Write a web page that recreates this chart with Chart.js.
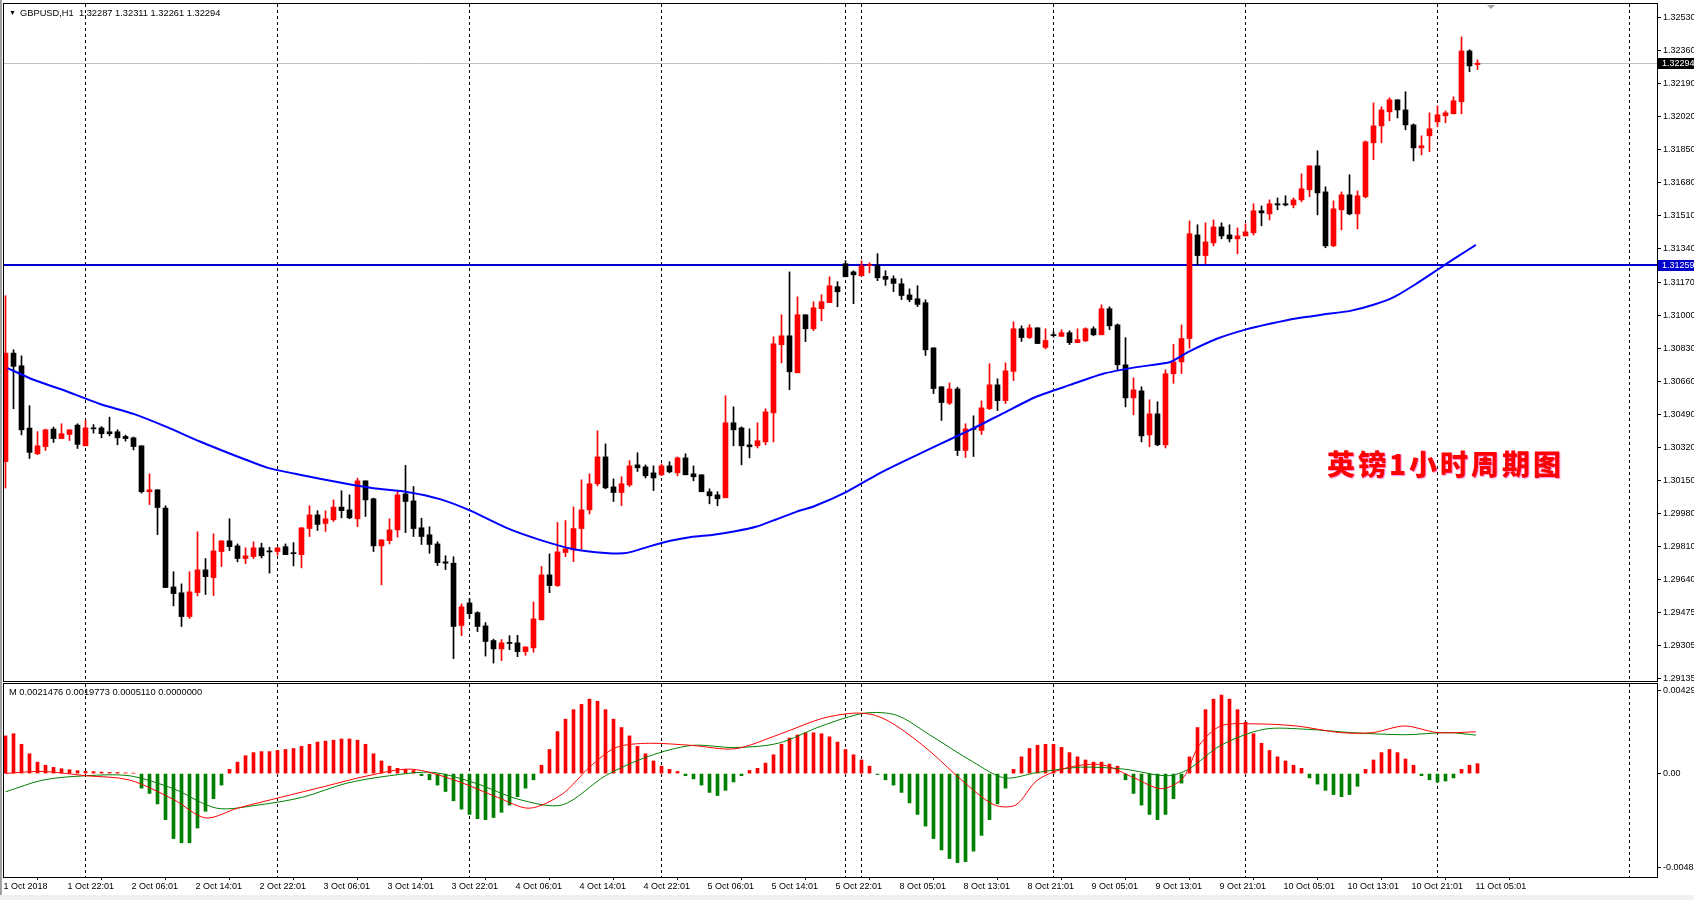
<!DOCTYPE html>
<html>
<head>
<meta charset="utf-8">
<script src="https://cdn.jsdelivr.net/npm/chart.js@4.4.0/dist/chart.umd.min.js"></script>
<style>
  body { margin: 0; background: #fff; }
  #wrap { position: relative; width: 1694px; height: 900px; overflow: hidden; background: #fff; font-family: 'Liberation Sans', Arial, sans-serif; }
  canvas { position: absolute; left: 0; }
  .lbl { position: absolute; font-size: 9.3px; line-height: 10px; color: #000; white-space: pre; }
  #title-cn { position: absolute; left: 1327px; top: 447px; font-family: 'Noto Sans CJK SC', sans-serif; font-weight: 900; font-size: 28px; line-height: 32px; letter-spacing: 3px; color: #ff0000; text-shadow: 1px 1px 1px rgba(255, 60, 200, 0.6); white-space: nowrap; }
</style>
</head>
<body>
<div id="wrap">
  <div style="position:absolute;left:0;top:0;width:2px;height:900px;background:#a0a0a0"></div>
  <canvas id="priceChart" width="1694" height="683" style="top:0"></canvas>
  <canvas id="macdChart" width="1694" height="217" style="top:683px"></canvas>
  <div class="lbl" style="left:9px;top:8px;font-size:7px">▼</div>
  <div class="lbl" style="left:20px;top:8px">GBPUSD,H1  1.32287 1.32311 1.32261 1.32294</div>
  <div class="lbl" style="left:9px;top:687px">M 0.0021476 0.0019773 0.0005110 0.0000000</div>
  <div id="title-cn">英镑1小时周期图</div>
  <div style="position:absolute;left:0;top:895px;width:1694px;height:5px;background:#f0f0f0"></div>
</div>
<script>
// etiquetas de tiempo (cada 8 velas)
const timeLabels = ['1 Oct 2018', '1 Oct 22:01', '2 Oct 06:01', '2 Oct 14:01', '2 Oct 22:01', '3 Oct 06:01',
  '3 Oct 14:01', '3 Oct 22:01', '4 Oct 06:01', '4 Oct 14:01', '4 Oct 22:01', '5 Oct 06:01', '5 Oct 14:01',
  '5 Oct 22:01', '8 Oct 05:01', '8 Oct 13:01', '8 Oct 21:01', '9 Oct 05:01', '9 Oct 13:01', '9 Oct 21:01',
  '10 Oct 05:01', '10 Oct 13:01', '10 Oct 21:01', '11 Oct 05:01'];

// velas H1 GBPUSD
const open = [1.30248, 1.30805, 1.30740, 1.30420, 1.30288, 1.30325, 1.30415, 1.30366, 1.30387, 1.30435,
  1.30329, 1.30420, 1.30421, 1.30401, 1.30401, 1.30377, 1.30370, 1.30329, 1.30093, 1.30103,
  1.30009, 1.29604, 1.29574, 1.29452, 1.29575, 1.29692, 1.29652, 1.29786, 1.29841, 1.29815,
  1.29750, 1.29760, 1.29805, 1.29787, 1.29786, 1.29811, 1.29780, 1.29770, 1.29904, 1.29974,
  1.29930, 1.29949, 1.30014, 1.30000, 1.29954, 1.30149, 1.30057, 1.29815, 1.29842, 1.29897,
  1.30082, 1.30046, 1.29908, 1.29872, 1.29825, 1.29733, 1.29726, 1.29406, 1.29522, 1.29472,
  1.29404, 1.29329, 1.29286, 1.29317, 1.29317, 1.29272, 1.29291, 1.29435, 1.29666, 1.29611,
  1.29781, 1.29794, 1.29904, 1.30000, 1.30134, 1.30272, 1.30118, 1.30089, 1.30128, 1.30231,
  1.30221, 1.30190, 1.30180, 1.30226, 1.30190, 1.30267, 1.30185, 1.30180, 1.30093, 1.30077,
  1.30062, 1.30447, 1.30421, 1.30334, 1.30329, 1.30349, 1.30498, 1.30848, 1.30894, 1.30704,
  1.31002, 1.30930, 1.31033, 1.31064, 1.31146, 1.31264, 1.31222, 1.31202, 1.31254, 1.31254,
  1.31199, 1.31187, 1.31161, 1.31104, 1.31084, 1.31064, 1.30832, 1.30632, 1.30548, 1.30621,
  1.30305, 1.30418, 1.30408, 1.30520, 1.30642, 1.30561, 1.30711, 1.30930, 1.30885, 1.30935,
  1.30834, 1.30900, 1.30891, 1.30910, 1.30859, 1.30868, 1.30930, 1.30899, 1.31033, 1.30950,
  1.30745, 1.30575, 1.30611, 1.30385, 1.30493, 1.30334, 1.30699, 1.30760, 1.30880, 1.31412,
  1.31306, 1.31371, 1.31453, 1.31412, 1.31392, 1.31407, 1.31423, 1.31536, 1.31520, 1.31572,
  1.31572, 1.31566, 1.31592, 1.31644, 1.31767, 1.31633, 1.31356, 1.31541, 1.31618, 1.31520,
  1.31608, 1.31885, 1.31972, 1.32044, 1.32106, 1.32054, 1.31977, 1.31859, 1.31921, 1.31993,
  1.32024, 1.32034, 1.32096, 1.32357, 1.32287];
const high = [1.31100, 1.30822, 1.30791, 1.30535, 1.30402, 1.30415, 1.30425, 1.30442, 1.30411, 1.30442,
  1.30459, 1.30438, 1.30428, 1.30476, 1.30411, 1.30384, 1.30374, 1.30329, 1.30185, 1.30103,
  1.30021, 1.29682, 1.29620, 1.29682, 1.29887, 1.29750, 1.29877, 1.29841, 1.29954, 1.29825,
  1.29805, 1.29836, 1.29829, 1.29808, 1.29805, 1.29825, 1.29832, 1.29908, 1.30021, 1.29996,
  1.29995, 1.30051, 1.30098, 1.30077, 1.30163, 1.30149, 1.30060, 1.29846, 1.29954, 1.30094,
  1.30228, 1.30120, 1.29957, 1.29913, 1.29836, 1.29764, 1.29759, 1.29517, 1.29544, 1.29477,
  1.29421, 1.29336, 1.29334, 1.29354, 1.29356, 1.29296, 1.29527, 1.29709, 1.29774, 1.29935,
  1.29945, 1.30015, 1.30154, 1.30185, 1.30406, 1.30339, 1.30159, 1.30170, 1.30253, 1.30293,
  1.30231, 1.30226, 1.30236, 1.30247, 1.30272, 1.30288, 1.30226, 1.30180, 1.30108, 1.30093,
  1.30586, 1.30529, 1.30426, 1.30416, 1.30447, 1.30519, 1.30889, 1.31002, 1.31222, 1.31094,
  1.31002, 1.31069, 1.31105, 1.31197, 1.31172, 1.31280, 1.31228, 1.31279, 1.31269, 1.31316,
  1.31228, 1.31202, 1.31187, 1.31135, 1.31151, 1.31079, 1.30832, 1.30632, 1.30652, 1.30630,
  1.30442, 1.30483, 1.30560, 1.30751, 1.30673, 1.30755, 1.30966, 1.30945, 1.30951, 1.30935,
  1.30930, 1.30916, 1.30925, 1.30920, 1.30930, 1.30935, 1.30940, 1.31053, 1.31043, 1.30955,
  1.30884, 1.30678, 1.30632, 1.30565, 1.30555, 1.30719, 1.30850, 1.30950, 1.31484, 1.31464,
  1.31474, 1.31489, 1.31474, 1.31464, 1.31448, 1.31469, 1.31572, 1.31561, 1.31592, 1.31602,
  1.31613, 1.31602, 1.31726, 1.31767, 1.31844, 1.31659, 1.31587, 1.31633, 1.31721, 1.31638,
  1.31895, 1.32090, 1.32070, 1.32116, 1.32106, 1.32147, 1.31982, 1.31921, 1.32039, 1.32075,
  1.32049, 1.32121, 1.32429, 1.32363, 1.32311];
const low = [1.30112, 1.30519, 1.30385, 1.30264, 1.30283, 1.30305, 1.30346, 1.30366, 1.30356, 1.30315,
  1.30329, 1.30394, 1.30370, 1.30380, 1.30334, 1.30353, 1.30308, 1.30086, 1.30027, 1.29873,
  1.29601, 1.29507, 1.29401, 1.29442, 1.29558, 1.29565, 1.29560, 1.29709, 1.29791, 1.29733,
  1.29724, 1.29750, 1.29753, 1.29675, 1.29767, 1.29770, 1.29712, 1.29702, 1.29863, 1.29894,
  1.29889, 1.29940, 1.29959, 1.29954, 1.29914, 1.29966, 1.29786, 1.29615, 1.29825, 1.29860,
  1.29883, 1.29863, 1.29822, 1.29777, 1.29714, 1.29693, 1.29236, 1.29354, 1.29444, 1.29375,
  1.29249, 1.29213, 1.29226, 1.29282, 1.29246, 1.29253, 1.29269, 1.29435, 1.29575, 1.29606,
  1.29760, 1.29734, 1.29798, 1.29979, 1.30123, 1.30108, 1.30043, 1.30022, 1.30120, 1.30197,
  1.30164, 1.30099, 1.30175, 1.30190, 1.30175, 1.30180, 1.30149, 1.30093, 1.30031, 1.30021,
  1.30062, 1.30329, 1.30231, 1.30267, 1.30318, 1.30334, 1.30349, 1.30755, 1.30617, 1.30704,
  1.30864, 1.30920, 1.30971, 1.31064, 1.31043, 1.31197, 1.31059, 1.31202, 1.31217, 1.31177,
  1.31153, 1.31121, 1.31080, 1.31069, 1.31044, 1.30793, 1.30597, 1.30459, 1.30541, 1.30279,
  1.30269, 1.30274, 1.30387, 1.30515, 1.30510, 1.30546, 1.30664, 1.30865, 1.30879, 1.30854,
  1.30826, 1.30887, 1.30891, 1.30849, 1.30859, 1.30864, 1.30894, 1.30899, 1.30925, 1.30719,
  1.30529, 1.30488, 1.30349, 1.30324, 1.30329, 1.30318, 1.30650, 1.30700, 1.30830, 1.31258,
  1.31265, 1.31356, 1.31392, 1.31376, 1.31315, 1.31407, 1.31412, 1.31459, 1.31489, 1.31541,
  1.31561, 1.31551, 1.31582, 1.31608, 1.31515, 1.31346, 1.31351, 1.31438, 1.31515, 1.31443,
  1.31602, 1.31798, 1.31885, 1.31998, 1.32013, 1.31952, 1.31792, 1.31823, 1.31839, 1.31967,
  1.31988, 1.32034, 1.32034, 1.32250, 1.32261];
const close = [1.30805, 1.30737, 1.30411, 1.30295, 1.30329, 1.30411, 1.30366, 1.30391, 1.30411, 1.30336,
  1.30421, 1.30416, 1.30391, 1.30391, 1.30370, 1.30366, 1.30325, 1.30093, 1.30103, 1.30012,
  1.29601, 1.29570, 1.29452, 1.29579, 1.29692, 1.29657, 1.29789, 1.29841, 1.29811, 1.29750,
  1.29764, 1.29805, 1.29764, 1.29784, 1.29805, 1.29770, 1.29775, 1.29908, 1.29974, 1.29925,
  1.29954, 1.30014, 1.29996, 1.29959, 1.30149, 1.30051, 1.29815, 1.29846, 1.29897, 1.30077,
  1.30043, 1.29904, 1.29863, 1.29822, 1.29729, 1.29726, 1.29401, 1.29502, 1.29467, 1.29401,
  1.29324, 1.29286, 1.29317, 1.29314, 1.29272, 1.29296, 1.29440, 1.29666, 1.29611, 1.29784,
  1.29800, 1.29904, 1.30000, 1.30134, 1.30272, 1.30113, 1.30089, 1.30134, 1.30226, 1.30216,
  1.30175, 1.30164, 1.30226, 1.30195, 1.30267, 1.30180, 1.30170, 1.30093, 1.30072, 1.30057,
  1.30447, 1.30411, 1.30329, 1.30324, 1.30355, 1.30503, 1.30853, 1.30894, 1.30709, 1.31002,
  1.30930, 1.31038, 1.31069, 1.31151, 1.31120, 1.31197, 1.31207, 1.31254, 1.31259, 1.31192,
  1.31184, 1.31163, 1.31101, 1.31080, 1.31055, 1.30822, 1.30623, 1.30551, 1.30621, 1.30305,
  1.30416, 1.30413, 1.30524, 1.30642, 1.30561, 1.30714, 1.30930, 1.30885, 1.30935, 1.30854,
  1.30870, 1.30895, 1.30910, 1.30859, 1.30874, 1.30930, 1.30899, 1.31033, 1.30945, 1.30745,
  1.30575, 1.30616, 1.30380, 1.30493, 1.30334, 1.30699, 1.30760, 1.30880, 1.31418, 1.31306,
  1.31376, 1.31453, 1.31407, 1.31392, 1.31407, 1.31428, 1.31536, 1.31525, 1.31572, 1.31566,
  1.31566, 1.31592, 1.31649, 1.31767, 1.31628, 1.31356, 1.31546, 1.31618, 1.31520, 1.31613,
  1.31890, 1.31972, 1.32054, 1.32106, 1.32054, 1.31977, 1.31859, 1.31870, 1.31957, 1.32029,
  1.32039, 1.32101, 1.32357, 1.32280, 1.32294];

const maIdx = [0.25, 3.5, 7.7, 11.8, 16, 20.2, 24.3, 28.5, 32.7, 36.8, 41.8, 46, 50.2, 54.3, 58.1, 62.7,
  66.8, 71, 75, 77.7, 80.3, 83.1, 85.7, 88.5, 91.2, 93.8, 96.4, 98.9, 101, 105.2, 109.3, 112.2, 116.4,
  120.6, 124.75, 128.9, 133.1, 137.2, 141.4, 145.6, 147.8, 151.5, 155.1, 158.2, 161.3, 164.7, 168.1,
  170.9, 173.6, 176.3, 179, 181.4, 183.8];
const maVal = [1.30728, 1.30668, 1.30608, 1.30544, 1.30493, 1.30425, 1.30351, 1.30282, 1.30217, 1.30180,
  1.30140, 1.30111, 1.30092, 1.30055, 1.29996, 1.29906, 1.29846, 1.29798, 1.29779, 1.29779, 1.29810,
  1.29841, 1.29861, 1.29872, 1.29890, 1.29913, 1.29952, 1.29991, 1.30017, 1.30094, 1.30189, 1.30248,
  1.30330, 1.30411, 1.30497, 1.30582, 1.30642, 1.30699, 1.30733, 1.30759, 1.30810, 1.30880, 1.30927,
  1.30957, 1.30983, 1.31003, 1.31022, 1.31052, 1.31094, 1.31160, 1.31233, 1.31298, 1.31361];

// histograma del indicador M
const hist = [0.00194, 0.00205, 0.00151, 0.00102, 0.00059, 0.00043, 0.00032, 0.00025, 0.00020, 0.00015,
  0.00012, 0.00010, 0.00008, 0.00006, 0.00006, 0.00004, 0.00002, -0.00075, -0.00102, -0.00156,
  -0.00237, -0.00334, -0.00356, -0.00356, -0.00280, -0.00194, -0.00129, -0.00059, 0.00022, 0.00059,
  0.00092, 0.00108, 0.00113, 0.00113, 0.00119, 0.00124, 0.00129, 0.00140, 0.00151, 0.00162,
  0.00167, 0.00172, 0.00178, 0.00178, 0.00172, 0.00151, 0.00102, 0.00065, 0.00038, 0.00027,
  0.00022, 0.00016, -0.00011, -0.00032, -0.00059, -0.00092, -0.00140, -0.00183, -0.00210, -0.00232,
  -0.00237, -0.00226, -0.00199, -0.00162, -0.00119, -0.00075, -0.00032, 0.00043, 0.00124, 0.00216,
  0.00280, 0.00329, 0.00356, 0.00383, 0.00372, 0.00329, 0.00280, 0.00237, 0.00194, 0.00140,
  0.00102, 0.00065, 0.00038, 0.00022, 0.00011, -0.00011, -0.00027, -0.00059, -0.00097, -0.00113,
  -0.00086, -0.00043, -0.00011, 0.00016, 0.00027, 0.00054, 0.00097, 0.00151, 0.00183, 0.00199,
  0.00210, 0.00210, 0.00205, 0.00189, 0.00162, 0.00124, 0.00097, 0.00070, 0.00038, -0.00005,
  -0.00032, -0.00059, -0.00097, -0.00151, -0.00210, -0.00270, -0.00334, -0.00393, -0.00437, -0.00458,
  -0.00453, -0.00399, -0.00318, -0.00237, -0.00156, -0.00075, 0.00022, 0.00086, 0.00129, 0.00146,
  0.00151, 0.00151, 0.00135, 0.00108, 0.00086, 0.00070, 0.00059, 0.00059, 0.00049, 0.00038,
  -0.00032, -0.00102, -0.00162, -0.00210, -0.00237, -0.00210, -0.00129, -0.00049, 0.00086, 0.00237,
  0.00329, 0.00383, 0.00404, 0.00383, 0.00329, 0.00264, 0.00205, 0.00156, 0.00119, 0.00086,
  0.00065, 0.00043, 0.00027, -0.00022, -0.00054, -0.00086, -0.00108, -0.00119, -0.00108, -0.00065,
  0.00022, 0.00070, 0.00108, 0.00124, 0.00108, 0.00075, 0.00043, -0.00011, -0.00032, -0.00043,
  -0.00038, -0.00022, 0.00022, 0.00043, 0.00051];

// lineas del indicador (roja y verde)
const redIdx = [0, 4.7, 10.1, 15.5, 21, 25, 29, 34.4, 39.9, 45.3, 50.7, 56.1, 61.5, 65.5, 69.6, 73, 76.3,
  80.4, 85.8, 91.2, 96.6, 102, 106, 108.7, 111.4, 115.5, 119.5, 123.6, 126.3, 129, 133, 137.1, 141.1,
  144.5, 147.2, 149.2, 151.9, 156, 161.4, 166.8, 170.9, 174.9, 179, 183.8];
const redVal = [0.00001, 0.00011, -0.00011, -0.00033, -0.00133, -0.00228, -0.00178, -0.00122, -0.00066,
  -0.00011, 0.00023, -0.00033, -0.00122, -0.00178, -0.00105, 0.00033, 0.00134, 0.00156, 0.00145, 0.00128,
  0.00200, 0.00283, 0.00311, 0.00300, 0.00245, 0.00117, -0.00033, -0.00161, -0.00161, -0.00033, 0.00033,
  0.00045, -0.00022, -0.00078, -0.00022, 0.00145, 0.00245, 0.00256, 0.00245, 0.00211, 0.00211, 0.00245,
  0.00211, 0.00215];
const greenIdx = [0, 4.7, 10.1, 15.5, 21, 26.4, 31.7, 37.1, 42.6, 48, 53.4, 58.8, 64.2, 69.6, 75, 80.4,
  85.8, 91.2, 96.6, 102, 107.4, 111.4, 115.5, 120.9, 124.9, 129, 134.4, 139.8, 145.2, 147.9, 151.9, 157.3,
  162.7, 168.2, 174.9, 180.3, 183.8];
const greenVal = [-0.00094, -0.00033, -0.00011, -0.00011, -0.00078, -0.00178, -0.00161, -0.00122, -0.00050,
  -0.00011, 0.00006, -0.00050, -0.00133, -0.00161, -0.00011, 0.00089, 0.00145, 0.00134, 0.00156, 0.00245,
  0.00311, 0.00300, 0.00200, 0.00061, -0.00022, 0.00006, 0.00033, 0.00023, -0.00011, 0.00023, 0.00145,
  0.00228, 0.00228, 0.00211, 0.00200, 0.00211, 0.00198];

// escalas
const priceTicks = [1.32530, 1.32360, 1.32190, 1.32020, 1.31850, 1.31680, 1.31510, 1.31340, 1.31170, 1.31000,
  1.30830, 1.30660, 1.30490, 1.30320, 1.30150, 1.29980, 1.29810, 1.29640, 1.29475, 1.29305, 1.29135];
const macdTicks = [0.00429, 0, -0.00484];
const macdTickText = ['0.00429', '0.00', '-0.00484'];
const gridBars = [10, 34, 58, 82, 105, 107, 131, 155, 179, 203];
const bidPrice = 1.32294;
const levelPrice = 1.31259;

const bullColor = '#ff0000';
const bearColor = '#000000';
const xMin = -0.1875;
const xMax = 206.4375;

Chart.defaults.font.family = "'Liberation Sans', Arial, sans-serif";
Chart.defaults.font.size = 9;
Chart.defaults.color = '#000';

const candleColors = close.map((c, i) => (c >= open[i] ? bullColor : bearColor));

// lineas verticales punteadas y marco
const gridPlugin = {
    id: 'gridPlugin',
    beforeDatasetsDraw(chart) {
        const { ctx, chartArea: a, scales: { x } } = chart;
        ctx.save();
        ctx.strokeStyle = '#000';
        ctx.lineWidth = 1;
        ctx.setLineDash([3, 3]);
        gridBars.forEach(b => {
            const px = Math.floor(x.getPixelForValue(b)) + 0.5;
            ctx.beginPath();
            ctx.moveTo(px, a.top);
            ctx.lineTo(px, a.bottom);
            ctx.stroke();
        });
        ctx.restore();
    },
    afterDraw(chart) {
        const { ctx, chartArea: a } = chart;
        ctx.save();
        ctx.strokeStyle = '#000';
        ctx.lineWidth = 1;
        ctx.strokeRect(Math.round(a.left) - 0.5, Math.round(a.top) - 0.5, Math.round(a.right - a.left) + 1, Math.round(a.bottom - a.top) + 1);
        ctx.restore();
    }
};

// lineas horizontales de precio y etiquetas
const pricePlugin = {
    id: 'pricePlugin',
    beforeDatasetsDraw(chart) {
        const { ctx, chartArea: a, scales: { y } } = chart;
        ctx.save();
        const yb = Math.round(y.getPixelForValue(bidPrice)) + 0.5;
        ctx.strokeStyle = '#c0c0c0';
        ctx.lineWidth = 1;
        ctx.beginPath();
        ctx.moveTo(a.left, yb);
        ctx.lineTo(a.right, yb);
        ctx.stroke();
        const yl = Math.round(y.getPixelForValue(levelPrice));
        ctx.strokeStyle = '#0000cc';
        ctx.lineWidth = 2;
        ctx.beginPath();
        ctx.moveTo(a.left, yl);
        ctx.lineTo(a.right, yl);
        ctx.stroke();
        ctx.restore();
    },
    afterDraw(chart) {
        const { ctx, chartArea: a, scales: { y } } = chart;
        ctx.save();
        ctx.font = "9px 'Liberation Sans', Arial, sans-serif";
        ctx.textBaseline = 'middle';
        [[bidPrice, '#000000'], [levelPrice, '#0000cc']].forEach(([p, bg]) => {
            const py = Math.round(y.getPixelForValue(p));
            ctx.fillStyle = bg;
            ctx.fillRect(a.right + 1, py - 5, chart.width - a.right, 11);
            ctx.fillStyle = '#fff';
            ctx.fillText(p.toFixed(5), a.right + 5, py + 0.5);
        });
        // marcador de desplazamiento del grafico
        ctx.fillStyle = '#a0a0a0';
        ctx.beginPath();
        ctx.moveTo(1487, 5);
        ctx.lineTo(1495, 5);
        ctx.lineTo(1491, 9);
        ctx.closePath();
        ctx.fill();
        ctx.restore();
    }
};

function noPad(scale) {
    scale.paddingTop = 0;
    scale.paddingBottom = 0;
    scale.paddingLeft = 0;
    scale.paddingRight = 0;
}

new Chart(document.getElementById('priceChart'), {
    type: 'bar',
    data: {
        datasets: [
            {
                type: 'line',
                label: 'MA',
                data: maIdx.map((v, i) => ({ x: v, y: maVal[i] })),
                borderColor: '#0000ff',
                borderWidth: 2,
                pointRadius: 0,
                tension: 0.2,
                order: 0
            },
            {
                label: 'Mechas',
                data: open.map((o, i) => ({ x: i, y: [low[i], high[i]] })),
                backgroundColor: candleColors,
                barThickness: 1,
                grouped: false,
                order: 2
            },
            {
                label: 'Cuerpos',
                data: open.map((o, i) => ({ x: i, y: [o, close[i]] })),
                backgroundColor: candleColors,
                barThickness: 5,
                minBarLength: 1,
                grouped: false,
                order: 1
            }
        ]
    },
    options: {
        responsive: false,
        animation: false,
        layout: { autoPadding: false, padding: { left: 4, top: 4, right: 0, bottom: 2 } },
        plugins: { legend: { display: false }, tooltip: { enabled: false } },
        scales: {
            x: { type: 'linear', min: xMin, max: xMax, offset: false, display: false },
            y: {
                position: 'right',
                min: 1.29121,
                max: 1.32598,
                afterBuildTicks: s => { s.ticks = priceTicks.map(v => ({ value: v })); },
                afterFit: s => { s.width = 37; noPad(s); },
                ticks: { callback: v => Number(v).toFixed(5), padding: 2, autoSkip: false, color: '#000' },
                grid: { drawOnChartArea: false, tickLength: 4, color: '#000' },
                border: { display: true, color: '#000' }
            }
        }
    },
    plugins: [gridPlugin, pricePlugin]
});

new Chart(document.getElementById('macdChart'), {
    type: 'bar',
    data: {
        datasets: [
            {
                type: 'line',
                label: 'Roja',
                data: redIdx.map((v, i) => ({ x: v, y: redVal[i] })),
                borderColor: '#ff0000',
                borderWidth: 1,
                pointRadius: 0,
                tension: 0.3,
                order: 0
            },
            {
                type: 'line',
                label: 'Verde',
                data: greenIdx.map((v, i) => ({ x: v, y: greenVal[i] })),
                borderColor: '#008000',
                borderWidth: 1,
                pointRadius: 0,
                tension: 0.3,
                order: 0
            },
            {
                label: 'Histograma',
                data: hist.map((v, i) => ({ x: i, y: v })),
                backgroundColor: hist.map(v => (v >= 0 ? '#ff0000' : '#008000')),
                barThickness: 3,
                grouped: false,
                order: 1
            }
        ]
    },
    options: {
        responsive: false,
        animation: false,
        layout: { autoPadding: false, padding: { left: 4, top: 1, right: 0, bottom: 0 } },
        plugins: { legend: { display: false }, tooltip: { enabled: false } },
        scales: {
            x: {
                type: 'linear',
                min: xMin,
                max: xMax,
                offset: false,
                afterBuildTicks: s => { s.ticks = timeLabels.map((t, k) => ({ value: k * 8 })); },
                afterFit: s => { s.height = 23; noPad(s); },
                ticks: {
                    callback: (v, idx) => timeLabels[idx],
                    autoSkip: false,
                    maxRotation: 0,
                    minRotation: 0,
                    align: 'start',
                    labelOffset: -2,
                    padding: 1,
                    color: '#000'
                },
                grid: { drawOnChartArea: false, tickLength: 3, color: '#000' },
                border: { display: true, color: '#000' }
            },
            y: {
                position: 'right',
                min: -0.00532,
                max: 0.00461,
                afterBuildTicks: s => { s.ticks = macdTicks.map(v => ({ value: v })); },
                afterFit: s => { s.width = 37; noPad(s); },
                ticks: { callback: (v, idx) => macdTickText[idx], padding: 2, autoSkip: false, color: '#000' },
                grid: { drawOnChartArea: false, tickLength: 4, color: '#000' },
                border: { display: true, color: '#000' }
            }
        }
    },
    plugins: [gridPlugin]
});
</script>
</body>
</html>
